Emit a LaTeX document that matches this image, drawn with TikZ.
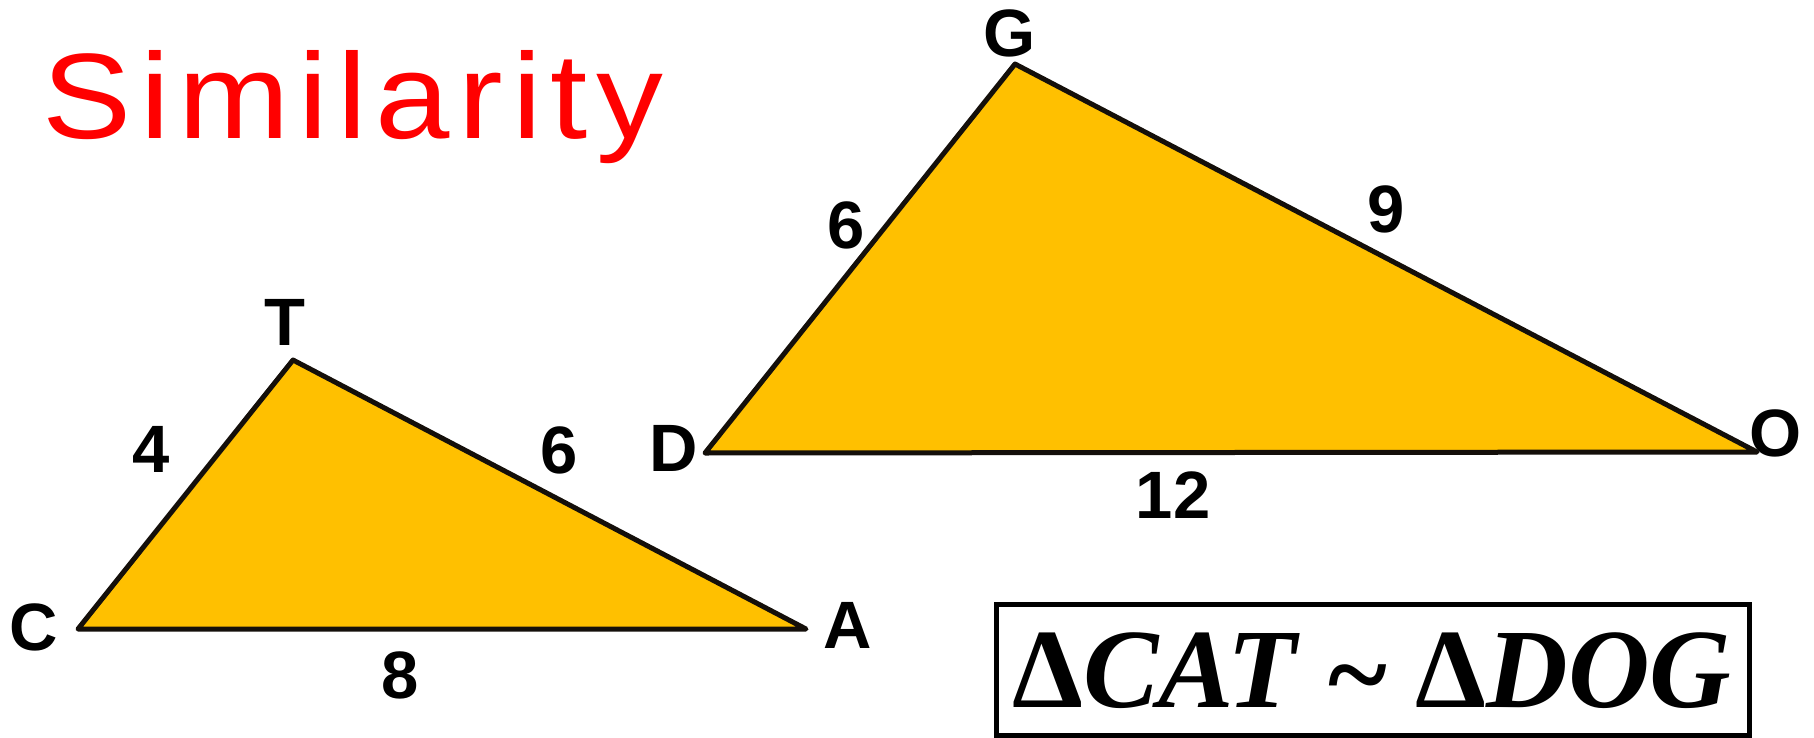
\documentclass[tikz,border=0pt]{standalone}
\usepackage{fontspec}
\usepackage{graphicx}
\setmainfont{Liberation Sans}
\newfontfamily\serifbox{Liberation Serif}
\newfontfamily\titlefont[LetterSpace=6.6]{Liberation Sans}
\definecolor{triyellow}{RGB}{255,192,0}
\definecolor{outline}{RGB}{20,15,10}
\definecolor{titlered}{RGB}{255,0,0}
\tikzset{
  tri/.style={fill=triyellow, draw=outline, line width=5pt, line join=round, line cap=round},
  lbl/.style={font=\fontsize{67}{67}\selectfont\bfseries, anchor=base, inner sep=0pt, text=black},
  frame/.style={draw=black, line width=5pt, fill=white}
}
\begin{document}
\begin{tikzpicture}[x=1pt,y=-1pt]
\useasboundingbox (0,0) rectangle (1814,738);
% title
\node[anchor=base west, inner sep=0pt, text=titlered, font=\titlefont\fontsize{121.5}{121.5}\selectfont] (title) at (42,139) {\scalebox{1.1}[1]{Similarity}};
% small triangle
\coordinate (C) at (78,629);
\coordinate (T) at (293,360);
\coordinate (A) at (806,629);
\filldraw[tri] (C) -- (T) -- (A) -- cycle;
% large triangle
\coordinate (D) at (705,453);
\coordinate (G) at (1015,64);
\coordinate (O) at (1757,452);
\filldraw[tri] (D) -- (G) -- (O) -- cycle;
% vertex labels
\node[lbl] (lT) at (284.5,345) {T};
\node[lbl] (lC) at (33.5,650) {C};
\node[lbl] (lA) at (848,648) {A};
\node[lbl] (lD) at (674,471) {D};
\node[lbl] (lG) at (1009.5,57) {G};
\node[lbl] (lO) at (1775.5,456) {O};
% side labels
\node[lbl] (s4) at (151.5,472) {4};
\node[lbl] (s6a) at (559,473) {6};
\node[lbl] (s8) at (400,698) {8};
\node[lbl] (s6b) at (846,248) {6};
\node[lbl] (s9) at (1386,232) {9};
\node[lbl] (s12) at (1173,518) {12};
% similarity statement box
\draw[frame] (996,604) rectangle (1749,735);
\node[anchor=base, inner sep=0pt, font=\serifbox\fontsize{113}{113}\selectfont\bfseries] (stmt) at (1372,707)
  {\textup{Δ}\textit{CAT} \raisebox{-5pt}{\symbol{"7E}} \textup{Δ}\textit{DOG}};
\end{tikzpicture}
\end{document}
